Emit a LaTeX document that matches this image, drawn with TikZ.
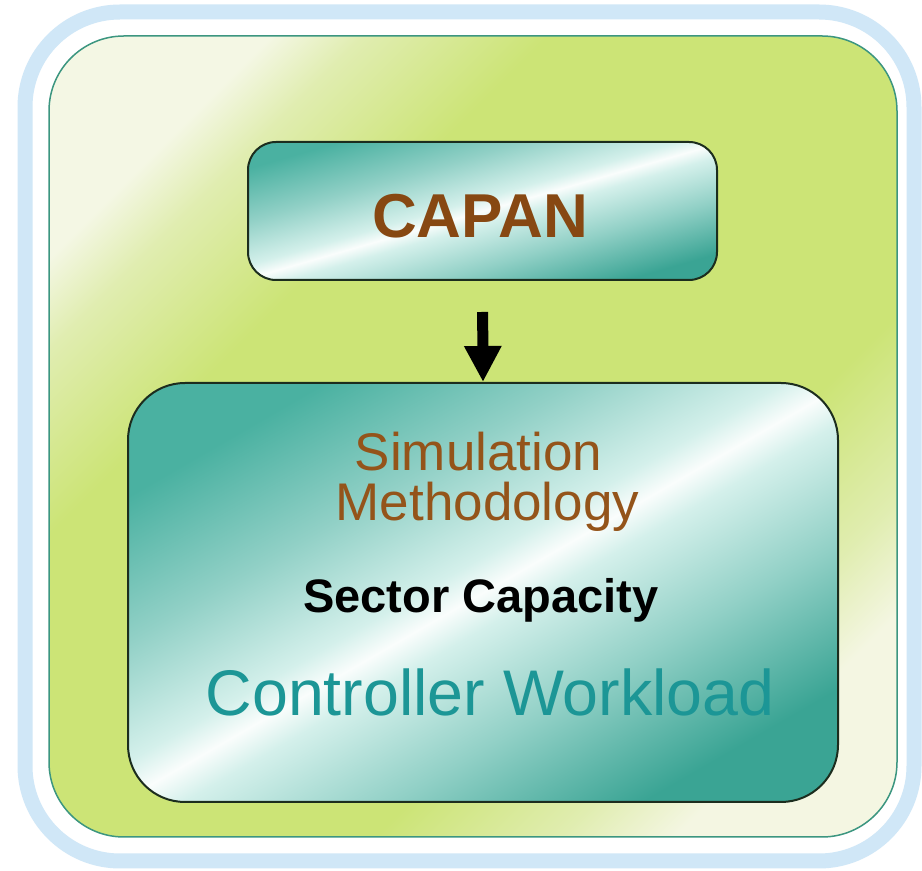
\documentclass[tikz,border=0pt]{standalone}
\usepackage{fontspec}
\setmainfont{Liberation Sans}
\usetikzlibrary{arrows.meta}
\definecolor{ringblue}{RGB}{208,231,247}
\definecolor{framedge}{RGB}{60,150,128}
\definecolor{paleA}{RGB}{244,247,228}
\definecolor{greenA}{RGB}{224,237,176}
\definecolor{greenB}{RGB}{204,228,118}
\definecolor{paleB}{RGB}{244,246,226}
\definecolor{tealA}{RGB}{74,177,161}
\definecolor{tealB}{RGB}{145,208,198}
\definecolor{tealC}{RGB}{212,240,235}
\definecolor{streak}{RGB}{250,253,252}
\definecolor{tealD}{RGB}{58,164,148}
\definecolor{boxedge}{RGB}{28,45,30}
\definecolor{capanbrown}{RGB}{135,72,18}
\definecolor{simbrown}{RGB}{148,84,26}
\definecolor{workteal}{RGB}{28,150,150}
\pgfdeclarehorizontalshading{tealstreak}{100bp}{color(0bp)=(tealA); color(25bp)=(tealA); color(37bp)=(tealB); color(47bp)=(tealC); color(50bp)=(streak); color(53bp)=(tealC); color(63bp)=(tealB); color(75bp)=(tealD); color(100bp)=(tealD)}
\pgfdeclarehorizontalshading{greenglow}{100bp}{color(0bp)=(paleA); color(24bp)=(paleA); color(28bp)=(greenA); color(36bp)=(greenB); color(63bp)=(greenB); color(71bp)=(greenA); color(76bp)=(paleB); color(100bp)=(paleB)}
\tikzset{
  ring/.style={draw=ringblue, line width=15pt, rounded corners=95pt},
  greenbox/.style={draw=framedge, line width=1.5pt, rounded corners=75pt, shading=greenglow, shading angle=-45, minimum width=848pt, minimum height=801pt, inner sep=0pt},
  tealbox/.style={draw=boxedge, line width=2pt, shading=tealstreak, inner sep=0pt},
  label/.style={anchor=base, inner sep=0pt},
  bigarrow/.style={draw=black, line width=11pt, -{Triangle[width=35pt,length=36pt]}, shorten <=31pt}
}
\begin{document}
\begin{tikzpicture}[x=1pt,y=1pt]
\useasboundingbox (0,0) rectangle (922,871);
\fill[white] (0,0) rectangle (922,871);
\draw[ring] (25,10) rectangle (914,859);
\node[greenbox] (frame) at (473,434.5) {};
\node[tealbox, shading angle=-74, rounded corners=28pt, minimum width=469pt, minimum height=138pt] (capan) at (482.5,660) {};
\node[tealbox, shading angle=-60, rounded corners=57pt, minimum width=710pt, minimum height=419pt] (main) at (483,278.5) {};
\node[label, font=\fontsize{62}{62}\selectfont\bfseries, text=capanbrown] (capantext) at (480,633) {CAPAN};
\node[label, font=\fontsize{53}{53}\selectfont, text=simbrown] (sim) at (478.5,400) {Simulation};
\node[label, font=\fontsize{53}{53}\selectfont, text=simbrown] (meth) at (487.5,350) {Methodology};
\node[label, font=\fontsize{47}{47}\selectfont\bfseries, text=black] (sector) at (481,258) {Sector Capacity};
\node[label, font=\fontsize{64.5}{64.5}\selectfont, text=workteal] (work) at (490,155) {Controller Workload};
\draw[bigarrow] (capan.south) -- (main.north);
\end{tikzpicture}
\end{document}
